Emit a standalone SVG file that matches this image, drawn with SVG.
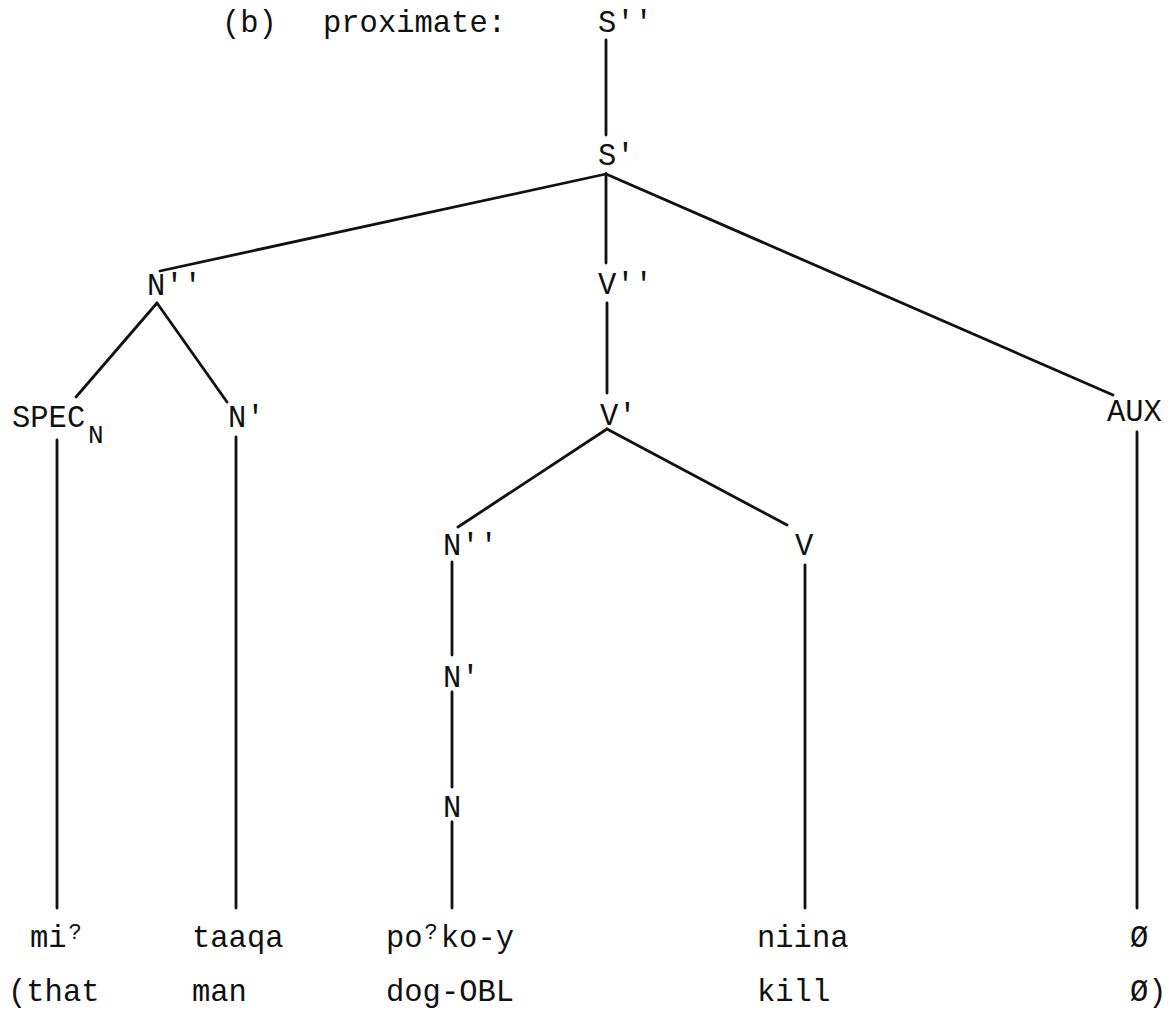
<svg xmlns="http://www.w3.org/2000/svg" width="1172" height="1019" viewBox="0 0 1172 1019">
<style>
text{font-family:"Liberation Mono","DejaVu Sans Mono",monospace;font-size:30.5px;fill:#111}
.sub{font-size:26px}
.g{font-size:22px}
#connectors line{stroke:#111;stroke-width:2.8;stroke-linecap:round}
</style>
<rect width="1172" height="1019" fill="#fff"/>
<g id="title"><text x="222" y="32">(b)</text><text x="323" y="32">proximate:</text></g>
<g id="connectors">
<line x1="606" y1="40" x2="606" y2="135"/>
<line x1="606" y1="174" x2="160" y2="271"/>
<line x1="606" y1="174" x2="606" y2="263"/>
<line x1="606" y1="174" x2="1113" y2="395"/>
<line x1="607" y1="303" x2="607" y2="393"/>
<line x1="157" y1="303" x2="76" y2="397"/>
<line x1="157" y1="303" x2="227" y2="402"/>
<line x1="57" y1="440" x2="57" y2="908"/>
<line x1="236" y1="437" x2="236" y2="908"/>
<line x1="607" y1="429" x2="458" y2="527"/>
<line x1="607" y1="429" x2="787" y2="525"/>
<line x1="452" y1="562" x2="452" y2="655"/>
<line x1="452" y1="692" x2="452" y2="787"/>
<line x1="452" y1="822" x2="452" y2="908"/>
<line x1="805" y1="565" x2="805" y2="908"/>
<line x1="1137" y1="432" x2="1137" y2="908"/>
</g>
<g id="n-S2"><text x="598" y="32">S''</text></g>
<g id="n-S1"><text x="598" y="165">S'</text></g>
<g id="n-N2"><text x="147" y="295">N''</text></g>
<g id="n-V2"><text x="598" y="294">V''</text></g>
<g id="n-SPEC"><text x="12" y="427">SPEC</text><text class="sub" x="88" y="443">N</text></g>
<g id="n-N1"><text x="228" y="427">N'</text></g>
<g id="n-V1"><text x="600" y="425">V'</text></g>
<g id="n-AUX"><text x="1107" y="421">AUX</text></g>
<g id="n-N2b"><text x="443" y="555">N''</text></g>
<g id="n-V"><text x="795" y="555">V</text></g>
<g id="n-N1b"><text x="443" y="687">N'</text></g>
<g id="n-N"><text x="443" y="817">N</text></g>
<g id="words">
<text x="30" y="947">mi<tspan class="g" dx="2" dy="-8">?</tspan></text>
<text x="192" y="947">taaqa</text>
<text x="386" y="947">po<tspan class="g" dx="2" dy="-8">?</tspan><tspan dx="3" dy="8">ko-y</tspan></text>
<text x="757" y="947">niina</text>
<text x="1130" y="947">Ø</text>
</g>
<g id="gloss">
<text x="8" y="1001">(that</text>
<text x="192" y="1001">man</text>
<text x="386" y="1001">dog-OBL</text>
<text x="757" y="1001">kill</text>
<text x="1130" y="1001">Ø)</text>
</g>
</svg>
